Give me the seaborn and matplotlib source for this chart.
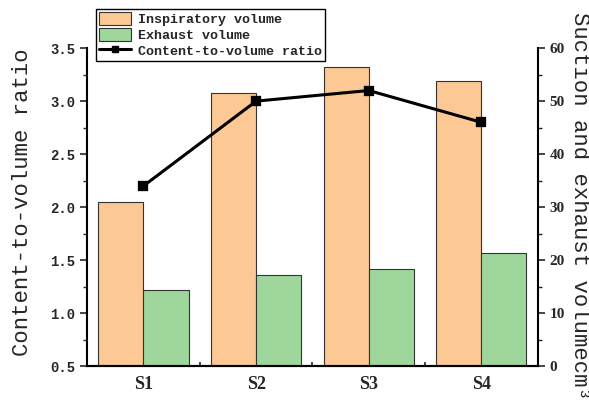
import matplotlib
matplotlib.use("Agg")
import matplotlib.pyplot as plt
import matplotlib.patches as mpatches
import matplotlib.lines as mlines
from matplotlib.ticker import MultipleLocator, FixedLocator
import pandas as pd
import seaborn as sns

# Data
samples = ["S1", "S2", "S3", "S4"]
inspiratory = [30.9, 51.5, 56.5, 53.8]
exhaust = [14.3, 17.2, 18.4, 21.3]
ratio = [2.20, 3.00, 3.10, 2.80]

series_names = ["Inspiratory volume", "Exhaust volume"]
bar_colors = ["#FCC894", "#9ED69C"]

df_bar = pd.DataFrame({
    "sample": samples * 2,
    "volume": inspiratory + exhaust,
    "kind": [series_names[0]] * 4 + [series_names[1]] * 4,
})

sns.set_style("ticks")
plt.rcParams["font.family"] = ["Liberation Mono", "DejaVu Sans"]

fig = plt.figure(figsize=(5.89, 4.01), dpi=100)
ax = fig.add_axes([0.148, 0.087, 0.765, 0.793])
ax2 = ax.twinx()

# Bars on the right axis
sns.barplot(data=df_bar, x="sample", y="volume", hue="kind", palette=bar_colors,
            saturation=1, edgecolor="#333333", linewidth=0.8, ax=ax2,
            legend=False, width=0.8)

# Ratio line on the left axis
sns.pointplot(x=samples, y=ratio, color="black", markers="s", linestyles="-",
              markersize=5.5, linewidth=2.2, ax=ax)

ax.set_zorder(ax2.get_zorder() + 1)
ax.patch.set_visible(False)

ax.set_xlim(-0.5, 3.5)
ax.set_ylim(0.5, 3.5)
ax2.set_ylim(0, 60)
ax.yaxis.set_major_locator(MultipleLocator(0.5))
ax.yaxis.set_minor_locator(MultipleLocator(0.25))
ax2.yaxis.set_major_locator(MultipleLocator(10))
ax2.yaxis.set_minor_locator(MultipleLocator(5))

ax.set_yticklabels([f"{v:.1f}" for v in ax.get_yticks()],
                   fontdict={"family": "Liberation Mono", "weight": "bold", "size": 10})
ax2.set_yticklabels([f"{int(v)}" for v in ax2.get_yticks()],
                    fontdict={"family": "Liberation Serif", "weight": "bold", "size": 11})

ax.set_xticks(range(len(samples)))
ax.set_xticklabels(samples, fontdict={"family": "Liberation Serif", "weight": "bold", "size": 13})
ax.xaxis.set_minor_locator(FixedLocator([0.5, 1.5, 2.5]))
ax.tick_params(axis="x", which="major", length=0, pad=7)
ax.tick_params(axis="x", which="minor", direction="in", length=3, width=1.2)
ax.tick_params(axis="y", which="major", direction="out", length=5, width=1.2)
ax.tick_params(axis="y", which="minor", direction="out", length=3, width=1.0)
ax2.tick_params(axis="y", which="major", direction="out", length=5, width=1.2)
ax2.tick_params(axis="y", which="minor", direction="out", length=3, width=1.0)
ax2.tick_params(axis="x", which="both", length=0)
ax2.set_xlabel("")

for a in (ax, ax2):
    for side in ("left", "right", "bottom"):
        a.spines[side].set_linewidth(1.5)
        a.spines[side].set_color("black")
    a.spines["top"].set_visible(False)
ax.spines["right"].set_visible(False)
ax2.spines["left"].set_visible(False)

ax.set_xlabel("")
ax.set_ylabel("Content-to-volume ratio", fontsize=16, family="Liberation Mono")
ax.yaxis.set_label_coords(-0.12, 0.516)
ax2.set_ylabel("Suction and exhaust volumecm³", fontsize=16, family="Liberation Mono",
               rotation=270, va="bottom")
ax2.yaxis.set_label_coords(1.07, 0.503)

handles = [
    mpatches.Patch(facecolor=bar_colors[0], edgecolor="#333333", linewidth=0.8),
    mpatches.Patch(facecolor=bar_colors[1], edgecolor="#333333", linewidth=0.8),
    mlines.Line2D([], [], color="black", marker="s", markersize=5, linewidth=2.2),
]
labels = series_names + ["Content-to-volume ratio"]
leg = fig.legend(handles, labels, loc="upper left", bbox_to_anchor=(0.163, 0.978),
                 prop={"family": "Liberation Mono", "weight": "bold", "size": 9.6},
                 frameon=True, fancybox=False, edgecolor="black", framealpha=1,
                 borderpad=0.25, labelspacing=0.15, handlelength=2.4, handleheight=1.1,
                 handletextpad=0.5, borderaxespad=0)
leg.get_frame().set_linewidth(1.0)
leg.set_zorder(10)

fig.savefig("out.png", dpi=100)
